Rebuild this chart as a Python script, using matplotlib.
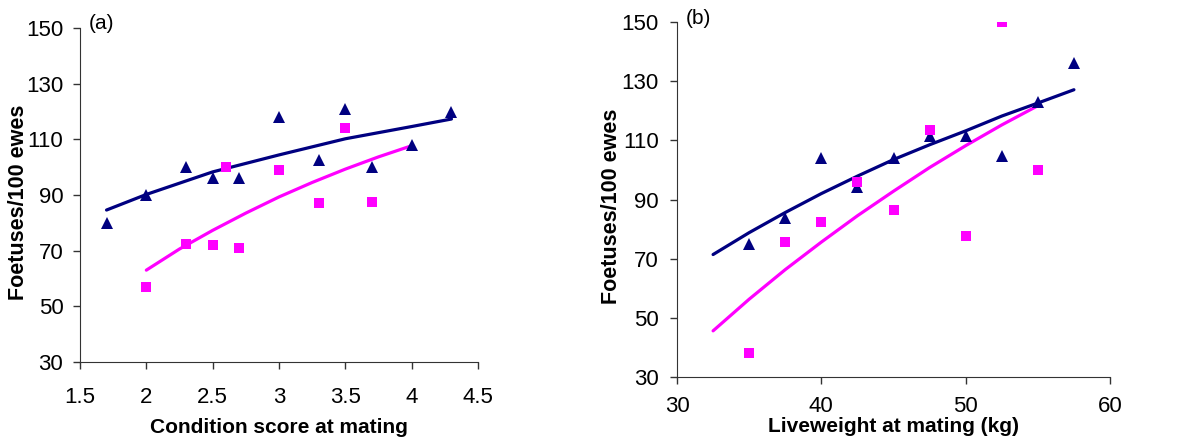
import matplotlib
matplotlib.use("Agg")
import matplotlib.pyplot as plt

plt.rcParams['font.family'] = ['Liberation Sans', 'DejaVu Sans']

# (a) condition score
cs_tri_x = [1.7, 2.0, 2.3, 2.5, 2.7, 3.0, 3.3, 3.5, 3.7, 4.0, 4.3]
cs_tri_y = [80, 90, 100, 96, 96, 118, 102.5, 121, 100, 108, 120]
cs_sq_x = [2.0, 2.3, 2.5, 2.6, 2.7, 3.0, 3.3, 3.5, 3.7]
cs_sq_y = [57, 72.5, 72, 100, 71, 99, 87, 114, 87.5]
# trend lines
cs_tri_fit_x = [1.7, 2.0, 2.5, 3.0, 3.5, 4.0, 4.3]
cs_tri_fit_y = [84.6, 90.2, 98.3, 104.4, 110.2, 114.6, 117.3]
cs_sq_fit_x = [2.0, 2.25, 2.5, 2.75, 3.0, 3.25, 3.5, 3.75, 4.0]
cs_sq_fit_y = [63, 70.6, 77.3, 83.5, 89.3, 94.5, 99.3, 103.7, 107.7]

# (b) liveweight
lw_tri_x = [35, 37.5, 40, 42.5, 45, 47.5, 50, 52.5, 55, 57.5]
lw_tri_y = [75, 83.6, 104, 94.3, 104, 111.5, 111.4, 104.8, 123, 136]
lw_sq_x = [35, 37.5, 40, 42.5, 45, 47.5, 50, 52.5, 55]
lw_sq_y = [38, 75.5, 82.3, 95.8, 86.3, 113.4, 77.5, 150, 100]
lw_tri_fit_x = [32.5, 35, 37.5, 40, 42.5, 45, 47.5, 50, 52.5, 55, 57.5]
lw_tri_fit_y = [71.4, 78.8, 85.6, 92.0, 97.9, 103.5, 108.5, 113.2, 118.2, 122.6, 127.1]
lw_sq_fit_x = [32.5, 35, 37.5, 40, 42.5, 45, 47.5, 50, 52.5, 55]
lw_sq_fit_y = [45.6, 56.3, 66.3, 75.6, 84.5, 92.8, 100.8, 108.2, 115.2, 121.7]

navy = '#000080'
pink = '#FF00FF'

fig = plt.figure(figsize=(11.84, 4.38), dpi=100)
W, H = 1184, 438
ax1 = fig.add_axes([80 / W, 1 - 362 / H, 398 / W, 334 / H])
ax2 = fig.add_axes([677 / W, 1 - 377 / H, 433 / W, 355 / H])

for ax, tx, ty, sx, sy, ftx, fty, fsx, fsy in [
        (ax1, cs_tri_x, cs_tri_y, cs_sq_x, cs_sq_y, cs_tri_fit_x, cs_tri_fit_y, cs_sq_fit_x, cs_sq_fit_y),
        (ax2, lw_tri_x, lw_tri_y, lw_sq_x, lw_sq_y, lw_tri_fit_x, lw_tri_fit_y, lw_sq_fit_x, lw_sq_fit_y)]:
    ax.plot(ftx, fty, color=navy, lw=2.3, solid_capstyle='round', zorder=2)
    ax.plot(fsx, fsy, color=pink, lw=2.3, solid_capstyle='round', zorder=2)
    ax.plot(tx, ty, '^', color=navy, ms=8, mew=0, zorder=3)
    ax.plot(sx, sy, 's', color=pink, ms=7.5, mew=0, zorder=3)
    ax.set_ylim(30, 150)
    ax.set_yticks([30, 50, 70, 90, 110, 130, 150])
    for s in ['top', 'right']:
        ax.spines[s].set_visible(False)
    ax.spines['left'].set_color('#333333')
    ax.spines['bottom'].set_color('#333333')
    ax.tick_params(direction='out', length=5, width=1, colors='#333333', labelsize=16, labelcolor='black')
    ax.set_ylabel('Foetuses/100 ewes', fontsize=15.5, fontweight='bold')

ax1.set_xlim(1.5, 4.5)
ax1.set_xticks([1.5, 2, 2.5, 3, 3.5, 4, 4.5])
ax1.set_xticklabels(['1.5', '2', '2.5', '3', '3.5', '4', '4.5'])
ax1.tick_params(axis='x', pad=13)
ax1.tick_params(axis='y', pad=7)
ax1.set_xlabel('Condition score at mating', fontsize=15, fontweight='bold', labelpad=7)
ax1.yaxis.set_label_coords(-0.127, 0.479)
ax1.text(0.023, 1.012, '(a)', transform=ax1.transAxes, fontsize=15, va='center', ha='left')

ax2.set_xlim(30, 60)
ax2.set_xticks([30, 40, 50, 60])
ax2.tick_params(axis='x', pad=9)
ax2.tick_params(axis='y', pad=8)
ax2.set_xlabel('Liveweight at mating (kg)', fontsize=15, fontweight='bold', labelpad=0)
ax2.yaxis.set_label_coords(-0.126, 0.482)
ax2.text(0.021, 1.011, '(b)', transform=ax2.transAxes, fontsize=15, va='center', ha='left')

fig.savefig('out.png', dpi=100)
